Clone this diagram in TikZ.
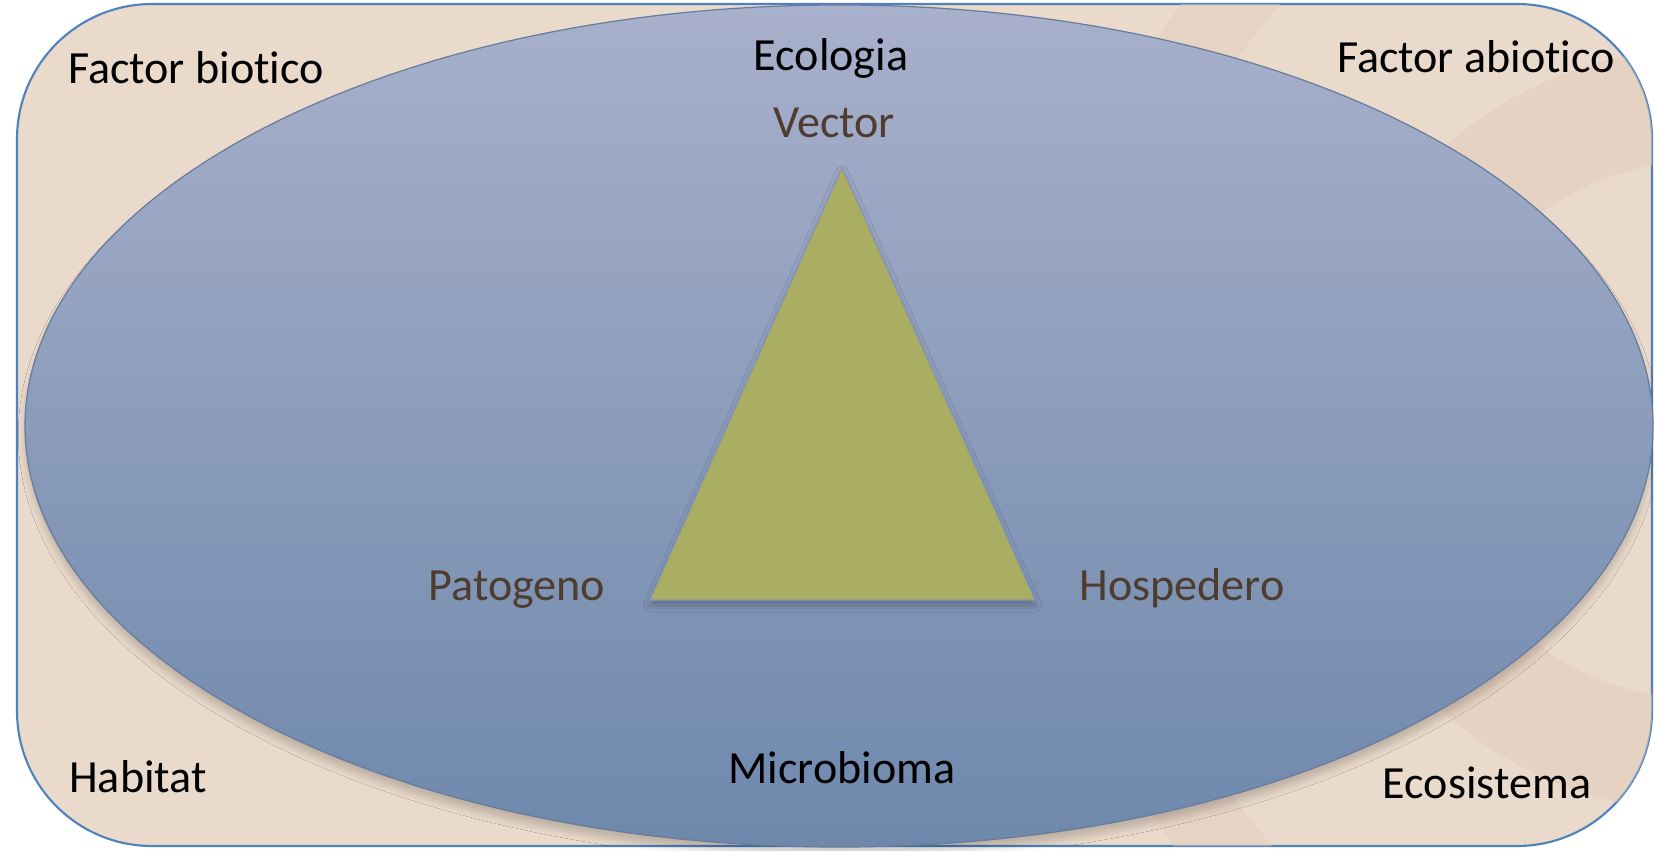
\documentclass[tikz,border=0pt]{standalone}
\usepackage{fontspec}
\setmainfont{Carlito}[Ligatures=NoCommon]
\usepackage{tikz}
\usetikzlibrary{positioning,shadows.blur}
\definecolor{paper}{RGB}{234,218,203}
\definecolor{band}{RGB}{227,205,188}
\definecolor{frame}{RGB}{79,129,189}
\definecolor{ovaltop}{RGB}{168,176,203}
\definecolor{ovalbot}{RGB}{110,136,172}
\definecolor{ovalline}{RGB}{104,124,156}
\definecolor{olive}{RGB}{170,174,98}
\definecolor{brownink}{RGB}{78,60,46}

\begin{document}
\begin{tikzpicture}[x=0.01cm, y=0.01cm, font=\fontsize{13.1pt}{15pt}\selectfont,
  outer/.style={draw=frame, line width=0.6pt, fill=paper, rounded corners=1.35cm},
  oval/.style={draw=ovalline, line width=0.35pt, top color=ovaltop, bottom color=ovalbot,
    blur shadow={shadow xshift=0pt, shadow yshift=-2.5pt, shadow blur steps=5, shadow opacity=18}},
  tri/.style={draw=ovalline!80, line width=0.3pt, fill=olive,
    blur shadow={shadow xshift=0pt, shadow yshift=-1.5pt, shadow blur steps=3, shadow opacity=25}},
  outerlbl/.style={anchor=base, text=black, inner sep=0pt},
  cornerlbl/.style={anchor=base, text=brownink, inner sep=0pt}]
  \useasboundingbox (0,0) rectangle (1654,850);
  % background frame and faint arcs
  \path[outer] (17,4) rectangle (1652,846);
  \begin{scope}
    \clip[rounded corners=1.35cm] (17,4) rectangle (1652,846);
    \draw[band, line width=32pt, opacity=0.55] (1700,420) circle (325);
    \draw[band, line width=22pt, opacity=0.5] (1760,420) circle (680);
  \end{scope}
  % ecology oval and triangle
  \path[oval] (839,424) ellipse (814 and 421);
  \coordinate (apex) at (842,682);
  \coordinate (pat) at (650,250);
  \coordinate (hos) at (1035,250);
  \path[tri] (apex) -- (hos) -- (pat) -- cycle;
  % labels
  \node[outerlbl] (biotic) at (196,767) {Factor biotico};
  \node[outerlbl] (abiotic) at (1476,778) {Factor abiotico};
  \node[outerlbl] (habitat) at (138,58) {Habitat};
  \node[outerlbl] (ecosys) at (1487,52) {Ecosistema};
  \node[outerlbl] (ecology) at (831,780) {Ecologia};
  \node[outerlbl] (microbiome) at (842,67) {Microbioma};
  \node[cornerlbl] (vector) at (834,713) {Vector};
  \node[cornerlbl] (pathogen) at (517,250) {Patogeno};
  \node[cornerlbl] (host) at (1182,250) {Hospedero};
\end{tikzpicture}
\end{document}
